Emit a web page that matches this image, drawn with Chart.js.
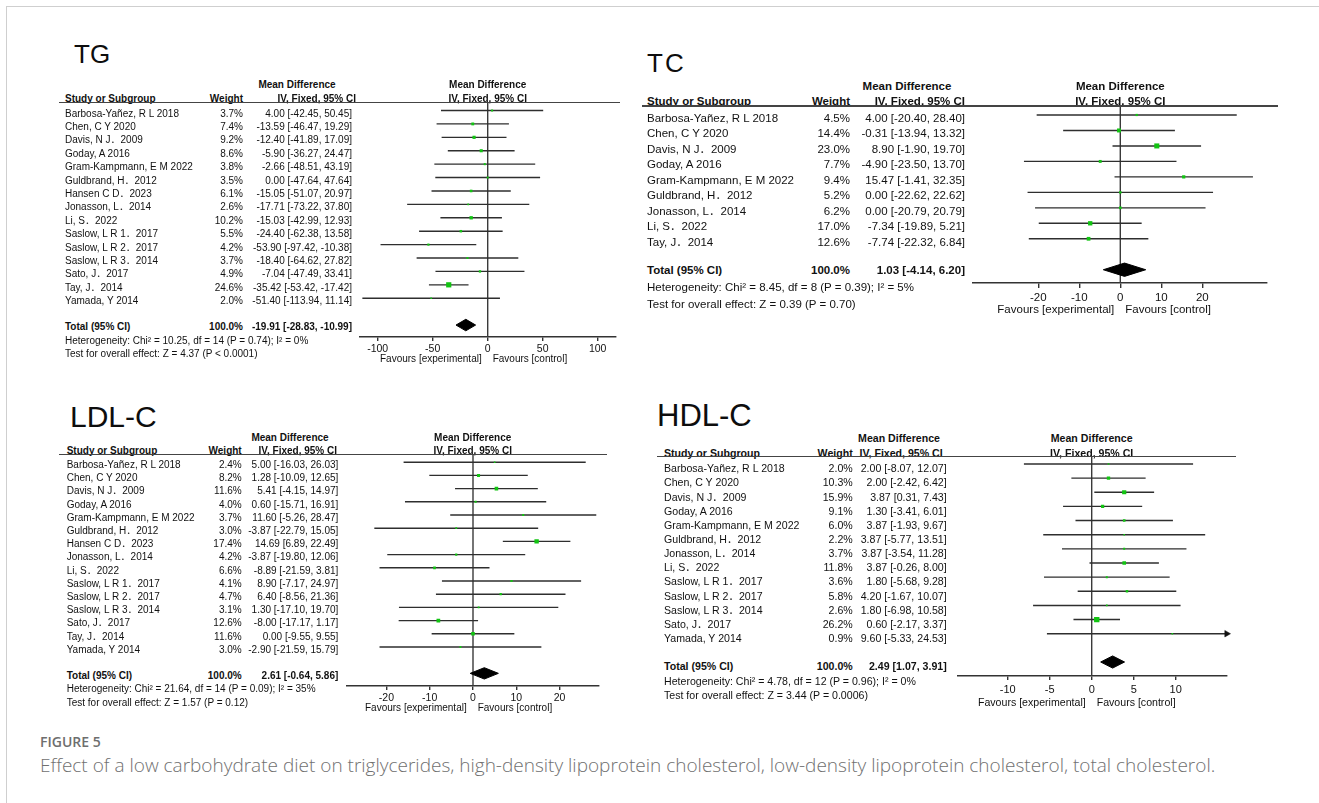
<!DOCTYPE html>
<html>
<head>
<meta charset="utf-8">
<title>Forest plots: low carbohydrate diet and blood lipids</title>
<script src="https://cdn.jsdelivr.net/npm/chart.js@4.4.0/dist/chart.umd.min.js"></script>
<style>
  html, body { margin: 0; padding: 0; background: #fff; }
  #page {
    position: relative; width: 1319px; height: 803px; overflow: hidden; background: #fff;
    font-family: "Liberation Sans", Arial, "Noto Sans CJK SC", sans-serif; color: #111;
  }
  .t { position: absolute; white-space: nowrap; line-height: 1.15; }
  .rule { position: absolute; height: 1.5px; background: #444; }
  .frame-top { position: absolute; left: 6px; top: 6px; width: 1313px; border-top: 1.5px solid #cfcfcf; }
  .frame-left { position: absolute; left: 6px; top: 6px; height: 797px; border-left: 1.5px solid #cfcfcf; }
  canvas { position: absolute; }
</style>
</head>
<body>
<div id="page">
  <div class="frame-top"></div>
  <div class="frame-left"></div>
</div>
<script>
// ---------------- TG (triglycerides) ----------------
const STUDIES_TG = [
  'Barbosa-Yañez, R L 2018', 'Chen, C Y 2020', 'Davis, N J．2009', 'Goday, A 2016',
  'Gram-Kampmann, E M 2022', 'Guldbrand, H．2012', 'Hansen C D．2023', 'Jonasson, L．2014',
  'Li, S．2022', 'Saslow, L R 1．2017', 'Saslow, L R 2．2017', 'Saslow, L R 3．2014',
  'Sato, J．2017', 'Tay, J．2014', 'Yamada, Y 2014'
];
const WEIGHT_TG = [3.7, 7.4, 9.2, 8.6, 3.8, 3.5, 6.1, 2.6, 10.2, 5.5, 4.2, 3.7, 4.9, 24.6, 2.0];
const MD_TG   = [4.00, -13.59, -12.40, -5.90, -2.66, 0.00, -15.05, -17.71, -15.03, -24.40, -53.90, -18.40, -7.04, -35.42, -51.40];
const LOW_TG  = [-42.45, -46.47, -41.89, -36.27, -48.51, -47.64, -51.07, -73.22, -42.99, -62.38, -97.42, -64.62, -47.49, -53.42, -113.94];
const HIGH_TG = [50.45, 19.29, 17.09, 24.47, 43.19, 47.64, 20.97, 37.80, 12.93, 13.58, -10.38, 27.82, 33.41, -17.42, 11.14];
const TOTAL_TG = [-19.91, -28.83, -10.99];
const HET_TG  = 'Heterogeneity: Chi² = 10.25, df = 14 (P = 0.74); I² = 0%';
const TEST_TG = 'Test for overall effect: Z = 4.37 (P < 0.0001)';
const TICKS_TG = [-100, -50, 0, 50, 100];

// ---------------- TC (total cholesterol) ----------------
const STUDIES_TC = [
  'Barbosa-Yañez, R L 2018', 'Chen, C Y 2020', 'Davis, N J．2009', 'Goday, A 2016',
  'Gram-Kampmann, E M 2022', 'Guldbrand, H．2012', 'Jonasson, L．2014', 'Li, S．2022', 'Tay, J．2014'
];
const WEIGHT_TC = [4.5, 14.4, 23.0, 7.7, 9.4, 5.2, 6.2, 17.0, 12.6];
const MD_TC   = [4.00, -0.31, 8.90, -4.90, 15.47, 0.00, 0.00, -7.34, -7.74];
const LOW_TC  = [-20.40, -13.94, -1.90, -23.50, -1.41, -22.62, -20.79, -19.89, -22.32];
const HIGH_TC = [28.40, 13.32, 19.70, 13.70, 32.35, 22.62, 20.79, 5.21, 6.84];
const TOTAL_TC = [1.03, -4.14, 6.20];
const HET_TC  = 'Heterogeneity: Chi² = 8.45, df = 8 (P = 0.39); I² = 5%';
const TEST_TC = 'Test for overall effect: Z = 0.39 (P = 0.70)';
const TICKS_TC = [-20, -10, 0, 10, 20];

// ---------------- LDL-C ----------------
const STUDIES_LDL = [
  'Barbosa-Yañez, R L 2018', 'Chen, C Y 2020', 'Davis, N J．2009', 'Goday, A 2016',
  'Gram-Kampmann, E M 2022', 'Guldbrand, H．2012', 'Hansen C D．2023', 'Jonasson, L．2014',
  'Li, S．2022', 'Saslow, L R 1．2017', 'Saslow, L R 2．2017', 'Saslow, L R 3．2014',
  'Sato, J．2017', 'Tay, J．2014', 'Yamada, Y 2014'
];
const WEIGHT_LDL = [2.4, 8.2, 11.6, 4.0, 3.7, 3.0, 17.4, 4.2, 6.6, 4.1, 4.7, 3.1, 12.6, 11.6, 3.0];
const MD_LDL   = [5.00, 1.28, 5.41, 0.60, 11.60, -3.87, 14.69, -3.87, -8.89, 8.90, 6.40, 1.30, -8.00, 0.00, -2.90];
const LOW_LDL  = [-16.03, -10.09, -4.15, -15.71, -5.26, -22.79, 6.89, -19.80, -21.59, -7.17, -8.56, -17.10, -17.17, -9.55, -21.59];
const HIGH_LDL = [26.03, 12.65, 14.97, 16.91, 28.47, 15.05, 22.49, 12.06, 3.81, 24.97, 21.36, 19.70, 1.17, 9.55, 15.79];
const TOTAL_LDL = [2.61, -0.64, 5.86];
const HET_LDL  = 'Heterogeneity: Chi² = 21.64, df = 14 (P = 0.09); I² = 35%';
const TEST_LDL = 'Test for overall effect: Z = 1.57 (P = 0.12)';
const TICKS_LDL = [-20, -10, 0, 10, 20];

// ---------------- HDL-C ----------------
const STUDIES_HDL = [
  'Barbosa-Yañez, R L 2018', 'Chen, C Y 2020', 'Davis, N J．2009', 'Goday, A 2016',
  'Gram-Kampmann, E M 2022', 'Guldbrand, H．2012', 'Jonasson, L．2014', 'Li, S．2022',
  'Saslow, L R 1．2017', 'Saslow, L R 2．2017', 'Saslow, L R 3．2014', 'Sato, J．2017', 'Yamada, Y 2014'
];
const WEIGHT_HDL = [2.0, 10.3, 15.9, 9.1, 6.0, 2.2, 3.7, 11.8, 3.6, 5.8, 2.6, 26.2, 0.9];
const MD_HDL   = [2.00, 2.00, 3.87, 1.30, 3.87, 3.87, 3.87, 3.87, 1.80, 4.20, 1.80, 0.60, 9.60];
const LOW_HDL  = [-8.07, -2.42, 0.31, -3.41, -1.93, -5.77, -3.54, -0.26, -5.68, -1.67, -6.98, -2.17, -5.33];
const HIGH_HDL = [12.07, 6.42, 7.43, 6.01, 9.67, 13.51, 11.28, 8.00, 9.28, 10.07, 10.58, 3.37, 24.53];
const TOTAL_HDL = [2.49, 1.07, 3.91];
const HET_HDL  = 'Heterogeneity: Chi² = 4.78, df = 12 (P = 0.96); I² = 0%';
const TEST_HDL = 'Test for overall effect: Z = 3.44 (P = 0.0006)';
const TICKS_HDL = [-10, -5, 0, 5, 10];

// ---------------- page layout ----------------
const PAGE_W = 1319;
const AXIS_H = 24;          // height reserved under the plot for the x axis
const SIDE = 12;            // spare canvas room either side of the plot area
const page = document.getElementById('page');

const PANELS = [
  { title: 'TG', titleX: 74, titleBase: 64, titleSize: 26, titleSpacing: 0,
    studies: STUDIES_TG, weight: WEIGHT_TG, md: MD_TG, low: LOW_TG, high: HIGH_TG,
    total: TOTAL_TG, het: HET_TG, test: TEST_TG, ticks: TICKS_TG,
    font: 10, studyX: 65, weightRight: 243, mdRight: 352, ivRight: 356, mdHeadX: 297,
    head1: 85, head2: 99, lineY: 102.5, lineX0: 59, lineX1: 620,
    row0: 110, pitch: 13.38, textOff: 3.5, totalOff: 2.7, hetDy: 14, testDy: 27,
    axisY: 336, axisX0: 360, axisX1: 616, zeroX: 487.7, ppu: 1.1,
    tickSize: 10.5, tickLen: 4, tickPad: 2, favDy: 23.3 },
  { title: 'TC', titleX: 647, titleBase: 73, titleSize: 26, titleSpacing: 2,
    studies: STUDIES_TC, weight: WEIGHT_TC, md: MD_TC, low: LOW_TC, high: HIGH_TC,
    total: TOTAL_TC, het: HET_TC, test: TEST_TC, ticks: TICKS_TC,
    font: 11.5, studyX: 647, weightRight: 850, mdRight: 965, ivRight: 965, mdHeadX: 907,
    head1: 86.7, head2: 101.7, lineY: 106, lineX0: 642, lineX1: 1278,
    row0: 115, pitch: 15.5, textOff: 4, totalOff: 1.7, hetDy: 16.7, testDy: 33.3,
    axisY: 283.3, axisX0: 973, axisX1: 1267, zeroX: 1120.3, ppu: 4.1,
    tickSize: 11.5, tickLen: 5, tickPad: 3, favDy: 26.7 },
  { title: 'LDL-C', titleX: 70, titleBase: 427, titleSize: 30, titleSpacing: 0,
    studies: STUDIES_LDL, weight: WEIGHT_LDL, md: MD_LDL, low: LOW_LDL, high: HIGH_LDL,
    total: TOTAL_LDL, het: HET_LDL, test: TEST_LDL, ticks: TICKS_LDL,
    font: 10, studyX: 66.7, weightRight: 241.7, mdRight: 338.3, ivRight: 337, mdHeadX: 290,
    head1: 437.7, head2: 451, lineY: 454.5, lineX0: 59, lineX1: 607,
    row0: 461.7, pitch: 13.21, textOff: 3.3, totalOff: 3.3, hetDy: 13.3, testDy: 27.3,
    axisY: 685.7, axisX0: 346.7, axisX1: 598.3, zeroX: 472.7, ppu: 4.33,
    tickSize: 10.5, tickLen: 4, tickPad: 2, favDy: 22 },
  { title: 'HDL-C', titleX: 657, titleBase: 427, titleSize: 31, titleSpacing: 0,
    studies: STUDIES_HDL, weight: WEIGHT_HDL, md: MD_HDL, low: LOW_HDL, high: HIGH_HDL,
    total: TOTAL_HDL, het: HET_HDL, test: TEST_HDL, ticks: TICKS_HDL,
    font: 10.6, studyX: 664, weightRight: 852.7, mdRight: 946.7, ivRight: 942.7, mdHeadX: 899,
    head1: 438.3, head2: 452.7, lineY: 456.3, lineX0: 656.7, lineX1: 1236,
    row0: 464.3, pitch: 14.17, textOff: 4, totalOff: 3.3, hetDy: 15, testDy: 29,
    axisY: 676.7, axisX0: 958, axisX1: 1226.7, zeroX: 1091.7, ppu: 8.4,
    tickSize: 11, tickLen: 4, tickPad: 3, favDy: 25 }
];

// Text placed with its vertical centre at yc.
function label(text, x, yc, o = {}) {
  const d = document.createElement('div');
  d.className = 't';
  d.textContent = text;
  d.style.fontSize = (o.size || 10) + 'px';
  if (o.bold) d.style.fontWeight = 'bold';
  if (o.weight) d.style.fontWeight = o.weight;
  if (o.family) d.style.fontFamily = o.family;
  if (o.color) d.style.color = o.color;
  if (o.spacing) d.style.letterSpacing = o.spacing + 'px';
  d.style.top = yc + 'px';
  const a = o.align || 'left';
  if (a === 'left') {
    d.style.left = x + 'px';
    d.style.transform = 'translateY(-50%)';
  } else if (a === 'right') {
    d.style.right = (PAGE_W - x) + 'px';
    d.style.transform = 'translateY(-50%)';
  } else {
    d.style.left = x + 'px';
    d.style.transform = 'translate(-50%, -50%)';
  }
  page.appendChild(d);
  return d;
}

function rule(x0, x1, y) {
  const r = document.createElement('div');
  r.className = 'rule';
  r.style.left = x0 + 'px';
  r.style.width = (x1 - x0) + 'px';
  r.style.top = (y - 0.75) + 'px';
  page.appendChild(r);
}

const fmt2 = v => v.toFixed(2);

// Vertical line of no effect at x = 0.
const zeroLine = {
  id: 'zeroLine',
  beforeDatasetsDraw(chart) {
    const { ctx, chartArea } = chart;
    const x = chart.scales.x.getPixelForValue(0);
    ctx.save();
    ctx.strokeStyle = '#3a3a3a';
    ctx.lineWidth = 1.4;
    ctx.beginPath();
    ctx.moveTo(x, chartArea.top);
    ctx.lineTo(x, chartArea.bottom);
    ctx.stroke();
    ctx.restore();
  }
};

function buildPanel(P) {
  const n = P.studies.length;
  const totalRow = n + 1;
  const xMin = (P.axisX0 - P.zeroX) / P.ppu;
  const xMax = (P.axisX1 - P.zeroX) / P.ppu;
  const yMin = (P.lineY - P.row0) / P.pitch;
  const yMax = (P.axisY - P.row0) / P.pitch;

  const plotW = P.axisX1 - P.axisX0;
  const W = Math.round(plotW + 2 * SIDE);
  const H = Math.round(P.axisY - P.lineY + AXIS_H);
  const left0 = P.axisX0 - SIDE;
  const cv = document.createElement('canvas');
  cv.width = W; cv.height = H;
  cv.style.width = W + 'px'; cv.style.height = H + 'px';
  cv.style.left = left0 + 'px';
  cv.style.top = P.lineY + 'px';
  page.appendChild(cv);

  const datasets = [];
  // confidence intervals
  P.md.forEach((m, i) => {
    datasets.push({
      data: [{ x: P.low[i], y: i }, { x: P.high[i], y: i }],
      showLine: true, borderColor: '#2e2e2e', borderWidth: 1.4,
      pointRadius: 0, order: 3
    });
  });
  // study estimates, square side grows with the study weight
  datasets.push({
    data: P.md.map((m, i) => ({ x: m, y: i })),
    pointStyle: 'rect',
    pointRadius: P.weight.map(w => Math.max(1.6, 1.05 * Math.sqrt(w)) / Math.SQRT2),
    backgroundColor: '#12c412', borderWidth: 0, order: 1
  });
  // arrows for intervals running past the axis
  const arrows = [];
  P.high.forEach((h, i) => { if (h > xMax) arrows.push({ x: xMax, y: i }); });
  P.low.forEach((l, i) => { if (l < xMin) arrows.push({ x: xMin, y: i, left: true }); });
  if (arrows.length) {
    datasets.push({
      data: arrows, pointStyle: 'triangle',
      rotation: arrows.map(a => (a.left ? -90 : 90)),
      pointRadius: 3.8, backgroundColor: '#111', borderColor: '#111', borderWidth: 0.5,
      clip: false, order: 2
    });
  }
  // pooled estimate diamond
  const [est, lo, hi] = P.total;
  const hh = 0.43;
  datasets.push({
    data: [
      { x: lo, y: totalRow }, { x: est, y: totalRow - hh },
      { x: hi, y: totalRow }, { x: est, y: totalRow + hh }, { x: lo, y: totalRow }
    ],
    showLine: true, fill: 'shape', tension: 0,
    borderColor: '#000', backgroundColor: '#000', borderWidth: 1,
    pointRadius: 0, order: 1
  });

  const chart = new Chart(cv, {
    type: 'scatter',
    data: { datasets },
    options: {
      responsive: false, animation: false, events: [], devicePixelRatio: 1,
      layout: { padding: { left: SIDE, right: W - SIDE - plotW, top: 0, bottom: 0 }, autoPadding: false },
      plugins: { legend: { display: false }, tooltip: { enabled: false } },
      scales: {
        x: {
          type: 'linear', position: 'bottom', min: xMin, max: xMax,
          afterBuildTicks: s => { s.ticks = P.ticks.map(v => ({ value: v })); },
          afterFit: s => { s.height = AXIS_H; },
          grid: { display: true, drawOnChartArea: false, drawTicks: true,
                  tickLength: P.tickLen, color: '#333', lineWidth: 1.4 },
          border: { display: true, color: '#333', width: 1.4 },
          ticks: { font: { family: 'Liberation Sans', size: P.tickSize }, color: '#111',
                   padding: P.tickPad, maxRotation: 0, autoSkip: false,
                   callback: v => String(v) }
        },
        y: { type: 'linear', display: false, min: yMin, max: yMax, reverse: true }
      }
    },
    plugins: [zeroLine]
  });

  // ----- text columns, aligned to the chart rows -----
  const ys = chart.scales.y, xs = chart.scales.x;
  const rowY = i => P.lineY + ys.getPixelForValue(i);
  const zero = left0 + xs.getPixelForValue(0);
  const f = P.font;

  label(P.title, P.titleX, P.titleBase - 0.3465 * P.titleSize,
        { size: P.titleSize, spacing: P.titleSpacing, color: '#0d0d0d' });

  label('Mean Difference', P.mdHeadX, P.head1, { size: f, bold: true, align: 'center' });
  label('Study or Subgroup', P.studyX, P.head2, { size: f, bold: true });
  label('Weight', P.weightRight, P.head2, { size: f, bold: true, align: 'right' });
  label('IV, Fixed, 95% CI', P.ivRight, P.head2, { size: f, bold: true, align: 'right' });
  label('Mean Difference', zero, P.head1, { size: f, bold: true, align: 'center' });
  label('IV, Fixed, 95% CI', zero, P.head2, { size: f, bold: true, align: 'center' });
  rule(P.lineX0, P.lineX1, P.lineY);

  P.studies.forEach((s, i) => {
    const y = rowY(i) + P.textOff;
    label(s, P.studyX, y, { size: f });
    label(P.weight[i].toFixed(1) + '%', P.weightRight, y, { size: f, align: 'right' });
    label(fmt2(P.md[i]) + ' [' + fmt2(P.low[i]) + ', ' + fmt2(P.high[i]) + ']',
          P.mdRight, y, { size: f, align: 'right' });
  });

  const ty = rowY(totalRow) + P.totalOff;
  label('Total (95% CI)', P.studyX, ty, { size: f, bold: true });
  label('100.0%', P.weightRight, ty, { size: f, bold: true, align: 'right' });
  label(fmt2(est) + ' [' + fmt2(lo) + ', ' + fmt2(hi) + ']', P.mdRight, ty,
        { size: f, bold: true, align: 'right' });
  label(P.het, P.studyX, ty + P.hetDy, { size: f });
  label(P.test, P.studyX, ty + P.testDy, { size: f });

  const favY = P.axisY + P.favDy;
  label('Favours [experimental]', zero - 6, favY, { size: f, align: 'right' });
  label('Favours [control]', zero + 5, favY, { size: f });
}

PANELS.forEach(buildPanel);

// ----- figure caption -----
label('FIGURE 5', 40, 742, { size: 14, weight: 600, family: '"Open Sans", sans-serif', color: '#6e6e6e' });
label('Effect of a low carbohydrate diet on triglycerides, high-density lipoprotein cholesterol, low-density lipoprotein cholesterol, total cholesterol.',
      40, 766, { size: 19, weight: 300, family: '"Open Sans", sans-serif', color: '#707070' });
</script>
</body>
</html>
